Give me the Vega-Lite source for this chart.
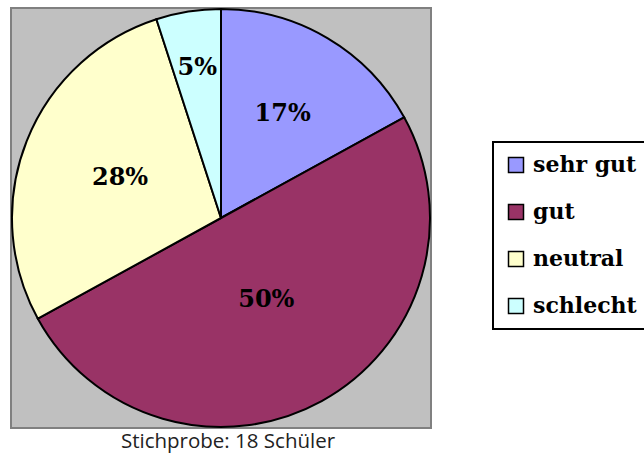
{
  "$schema": "https://vega.github.io/schema/vega-lite/v6.json",
  "width": 420,
  "height": 420,
  "autosize": "none",
  "padding": {"left": 11, "top": 8, "right": 213, "bottom": 27},
  "background": "white",
  "title": {
    "text": "Stichprobe: 18 Schüler",
    "orient": "bottom",
    "anchor": "middle",
    "font": "Open Sans",
    "fontSize": 20.5,
    "fontWeight": "normal",
    "color": "#222222",
    "offset": 1,
    "dx": 7
  },
  "data": {
    "values": [
      {"category": "sehr gut", "share": 0.17, "idx": 1},
      {"category": "gut", "share": 0.50, "idx": 2},
      {"category": "neutral", "share": 0.28, "idx": 3},
      {"category": "schlecht", "share": 0.05, "idx": 4}
    ]
  },
  "layer": [
    {
      "data": {"values": [{"box": 1}]},
      "mark": {"type": "rect", "fill": "#C0C0C0", "stroke": "#808080", "strokeWidth": 2},
      "encoding": {}
    },
    {
      "mark": {"type": "arc", "outerRadius": 209, "stroke": "black", "strokeWidth": 2},
      "encoding": {
        "theta": {"field": "share", "type": "quantitative", "stack": true},
        "order": {"field": "idx", "type": "quantitative"},
        "color": {
          "field": "category",
          "type": "nominal",
          "sort": ["sehr gut", "gut", "neutral", "schlecht"],
          "scale": {
            "domain": ["sehr gut", "gut", "neutral", "schlecht"],
            "range": ["#9999FF", "#993366", "#FFFFCC", "#CCFFFF"]
          },
          "legend": {
            "orient": "none",
            "legendX": 482,
            "legendY": 134,
            "title": null,
            "strokeColor": "black",
            "fillColor": "white",
            "padding": 12,
            "symbolType": "square",
            "symbolSize": 225,
            "symbolStrokeColor": "black",
            "symbolStrokeWidth": 1.5,
            "symbolOpacity": 1,
            "labelFont": "DejaVu Serif",
            "labelFontWeight": "bold",
            "labelFontSize": 22,
            "labelColor": "black",
            "labelOffset": 6,
            "rowPadding": 25,
            "labelLimit": 300
          }
        }
      }
    },
    {
      "mark": {
        "type": "text",
        "font": "DejaVu Serif",
        "fontWeight": "bold",
        "fontSize": 24,
        "color": "black"
      },
      "encoding": {
        "theta": {"field": "share", "type": "quantitative", "stack": true},
        "order": {"field": "idx", "type": "quantitative"},
        "radius": {
          "field": "share",
          "type": "quantitative",
          "scale": {"type": "log", "domain": [0.05, 0.5], "range": [152, 94], "zero": false}
        },
        "text": {"field": "share", "type": "quantitative", "format": ".0%"}
      }
    }
  ],
  "config": {
    "view": {"stroke": null},
    "legend": {"strokeWidth": 2}
  }
}
